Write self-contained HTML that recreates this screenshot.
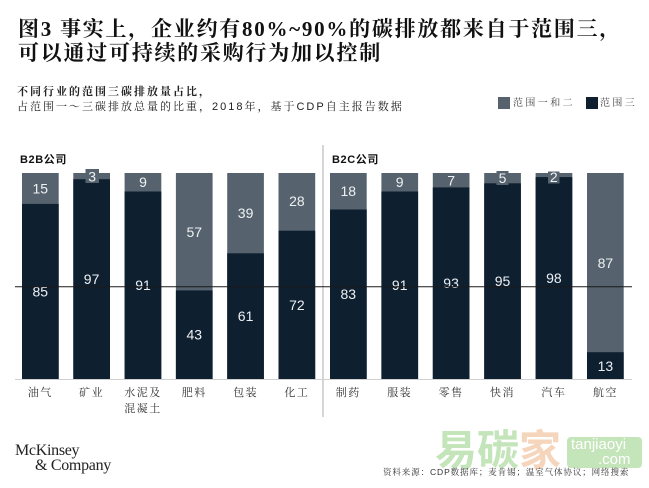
<!DOCTYPE html>
<html>
<head>
<meta charset="utf-8">
<style>
  html,body{margin:0;padding:0;background:#fff;}
  body{width:649px;height:488px;position:relative;overflow:hidden;}
  .t{position:absolute;white-space:nowrap;}
  .title{font-family:"Liberation Serif","Noto Serif CJK SC",serif;font-weight:bold;font-size:21px;line-height:24px;letter-spacing:1.75px;color:#111;left:18px;}
  .sub{font-family:"Liberation Sans","Noto Serif CJK SC",sans-serif;font-size:11px;line-height:15px;letter-spacing:2px;color:#222;left:17px;}
  .leg{font-family:"Liberation Sans","Noto Serif CJK SC",sans-serif;font-size:10px;line-height:14px;letter-spacing:2.4px;color:#444;}
  .grp{font-family:"Liberation Sans","Noto Sans CJK SC",sans-serif;font-weight:bold;font-size:11px;line-height:14px;letter-spacing:0.6px;color:#111;}
  .cat{font-family:"Liberation Serif","Noto Serif CJK SC",serif;font-size:11px;line-height:16px;letter-spacing:1.5px;color:#333;text-align:center;width:60px;}
  .mck{font-family:"Liberation Serif",serif;font-size:16px;line-height:15px;color:#222;letter-spacing:-0.3px;}
  .src{font-family:"Liberation Sans","Noto Serif CJK SC",sans-serif;font-size:8.5px;line-height:12px;letter-spacing:0.9px;color:#333;left:383px;top:466px;}
</style>
</head>
<body>

<div class="t title" style="top:16.5px;">图3 事实上，企业约有80%~90%的碳排放都来自于范围三，</div>
<div class="t title" style="top:40.5px;">可以通过可持续的采购行为加以控制</div>

<div class="t sub" style="top:84.5px;font-weight:bold;">不同行业的范围三碳排放量占比，</div>
<div class="t sub" style="top:99.5px;">占范围一～三碳排放总量的比重，2018年，基于CDP自主报告数据</div>

<div style="position:absolute;left:498px;top:97px;width:12px;height:12px;background:#56636e;"></div>
<div class="t leg" style="left:513px;top:96.5px;">范围一和二</div>
<div style="position:absolute;left:586px;top:97px;width:12px;height:12px;background:#0e1f30;"></div>
<div class="t leg" style="left:600px;top:96.5px;">范围三</div>

<div class="t grp" style="left:20px;top:153px;">B2B公司</div>
<div class="t grp" style="left:332px;top:153px;">B2C公司</div>

<!-- watermark -->
<div class="t" style="left:435px;top:424px;font-family:'Noto Sans CJK SC',sans-serif;font-size:42px;line-height:48px;font-weight:bold;color:#c4e4ba;">易碳<span style="color:#f5d5bb;">家</span></div>
<div style="position:absolute;left:567px;top:437px;width:75px;height:31px;background:#c4e4ba;border-radius:4px;"></div>
<div class="t" style="left:571px;top:437px;font-family:'Liberation Sans',sans-serif;font-size:15px;line-height:16px;color:#fff;">tanjiaoyi</div>
<div class="t" style="left:598px;top:452px;font-family:'Liberation Sans',sans-serif;font-size:15px;line-height:16px;color:#fff;">.com</div>

<svg style="position:absolute;left:0;top:0;" width="649" height="488" viewBox="0 0 649 488">
  <rect x="322" y="145" width="2" height="272" fill="#d6d6d6"/>
  <line x1="15" y1="379.5" x2="632" y2="379.5" stroke="#d0d0d0" stroke-width="1"/>

  <g font-family="Liberation Sans, sans-serif" font-size="14" fill="#eef1f3" text-anchor="middle">
  <rect x="22" y="173" width="36.7" height="206" fill="#56636e"/>
  <rect x="22" y="203.9" width="36.7" height="175.1" fill="#0e1f30"/>
  <text x="40.3" y="193.5">15</text>
  <text x="40.3" y="296.5">85</text>

  <rect x="73.3" y="173" width="36.7" height="206" fill="#56636e"/>
  <rect x="73.3" y="179.2" width="36.7" height="199.8" fill="#0e1f30"/>
  <rect x="85.5" y="169" width="13.5" height="14" fill="#56636e"/>
  <text x="92.2" y="181.5">3</text>
  <text x="91.6" y="284">97</text>

  <rect x="124.6" y="173" width="36.7" height="206" fill="#56636e"/>
  <rect x="124.6" y="191.5" width="36.7" height="187.5" fill="#0e1f30"/>
  <text x="143" y="187">9</text>
  <text x="143" y="290">91</text>

  <rect x="175.9" y="173" width="36.7" height="206" fill="#56636e"/>
  <rect x="175.9" y="290.4" width="36.7" height="88.6" fill="#0e1f30"/>
  <text x="194.3" y="237">57</text>
  <text x="194.3" y="339.5">43</text>

  <rect x="227.2" y="173" width="36.7" height="206" fill="#56636e"/>
  <rect x="227.2" y="253.3" width="36.7" height="125.7" fill="#0e1f30"/>
  <text x="245.6" y="218">39</text>
  <text x="245.6" y="321">61</text>

  <rect x="278.5" y="173" width="36.7" height="206" fill="#56636e"/>
  <rect x="278.5" y="230.7" width="36.7" height="148.3" fill="#0e1f30"/>
  <text x="296.9" y="206">28</text>
  <text x="296.9" y="310">72</text>

  <rect x="330" y="173" width="36.7" height="206" fill="#56636e"/>
  <rect x="330" y="209.5" width="36.7" height="169.5" fill="#0e1f30"/>
  <text x="348.3" y="196">18</text>
  <text x="348.3" y="299">83</text>

  <rect x="381.4" y="173" width="36.7" height="206" fill="#56636e"/>
  <rect x="381.4" y="191.5" width="36.7" height="187.5" fill="#0e1f30"/>
  <text x="399.7" y="187">9</text>
  <text x="399.7" y="290">91</text>

  <rect x="432.8" y="173" width="36.7" height="206" fill="#56636e"/>
  <rect x="432.8" y="187.4" width="36.7" height="191.6" fill="#0e1f30"/>
  <text x="451.1" y="185.5">7</text>
  <text x="451.1" y="288">93</text>

  <rect x="484.2" y="173" width="36.7" height="206" fill="#56636e"/>
  <rect x="484.2" y="183.3" width="36.7" height="195.7" fill="#0e1f30"/>
  <rect x="496.5" y="171" width="12" height="14" fill="#56636e"/>
  <text x="502.5" y="183">5</text>
  <text x="502.5" y="286">95</text>

  <rect x="535.6" y="173" width="36.7" height="206" fill="#56636e"/>
  <rect x="535.6" y="177.1" width="36.7" height="201.9" fill="#0e1f30"/>
  <rect x="548" y="171.5" width="11.5" height="12" fill="#56636e"/>
  <text x="553.8" y="182">2</text>
  <text x="553.9" y="283">98</text>

  <rect x="587" y="173" width="36.7" height="206" fill="#56636e"/>
  <rect x="587" y="352.2" width="36.7" height="26.8" fill="#0e1f30"/>
  <text x="605.4" y="268">87</text>
  <text x="605.4" y="371">13</text>
  </g>

  <line x1="15" y1="286.7" x2="632" y2="286.7" stroke="#1a1a1a" stroke-width="1"/>
</svg>

<div class="t cat" style="left:10.3px;top:385px;">油气</div>
<div class="t cat" style="left:61.6px;top:385px;">矿业</div>
<div class="t cat" style="left:113px;top:385px;">水泥及</div>
<div class="t cat" style="left:113px;top:401px;">混凝土</div>
<div class="t cat" style="left:164.3px;top:385px;">肥料</div>
<div class="t cat" style="left:215.6px;top:385px;">包装</div>
<div class="t cat" style="left:266.9px;top:385px;">化工</div>
<div class="t cat" style="left:318.3px;top:385px;">制药</div>
<div class="t cat" style="left:369.7px;top:385px;">服装</div>
<div class="t cat" style="left:421.1px;top:385px;">零售</div>
<div class="t cat" style="left:472.5px;top:385px;">快消</div>
<div class="t cat" style="left:523.9px;top:385px;">汽车</div>
<div class="t cat" style="left:575.4px;top:385px;">航空</div>

<div class="t mck" style="left:15px;top:443px;">McKinsey</div>
<div class="t mck" style="left:35px;top:458px;">&amp; Company</div>

<div class="t src">资料来源：CDP数据库；麦肯锡；温室气体协议；网络搜索</div>

</body>
</html>
